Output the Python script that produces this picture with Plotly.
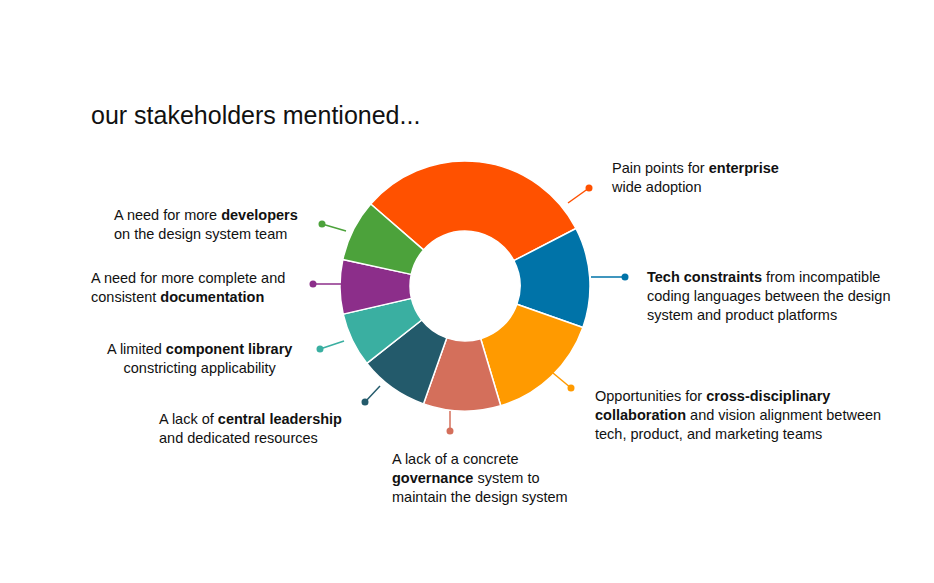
import plotly.graph_objects as go

W, H = 934, 583

# Slice data, clockwise starting from the orange slice
topics = ["Enterprise adoption", "Tech constraints", "Cross-disciplinary collaboration",
          "Governance", "Central leadership", "Component library",
          "Documentation", "Developers"]
shares = [31, 13, 15, 10, 9, 7, 7, 8]
colors = ["#FF5100", "#0073A8", "#FF9A00", "#D46F5B", "#235A6B", "#3AAFA1", "#8C2E8A", "#4CA23B"]

labels_html = [
    "Pain points for <b>enterprise</b><br>wide adoption",
    "<b>Tech constraints</b> from incompatible<br>coding languages between the design<br>system and product platforms",
    "Opportunities for <b>cross-disciplinary</b><br><b>collaboration</b> and vision alignment between<br>tech, product, and marketing teams",
    "A lack of a concrete<br><b>governance</b> system to<br>maintain the design system",
    "A lack of <b>central leadership</b><br>and dedicated resources",
    "A limited <b>component library</b><br>constricting applicability",
    "A need for more complete and<br>consistent <b>documentation</b>",
    "A need for more <b>developers</b><br>on the design system team",
]
# label placement in pixels: (x, y_center, anchor, align)
label_pos = [(601, 169, "left", "left"), (637, 288, "left", "left"),
             (585, 407, "left", "left"), (382, 470, "left", "left"),
             (149, 420, "left", "left"), (191, 350, "center", "center"),
             (81, 280, "left", "left"), (104, 217, "left", "left")]
# leader lines: (x0, y0, dot x, dot y)
leaders = [(560, 195, 581, 180), (583, 269, 617, 269), (545, 365, 563, 380),
           (442, 403, 442, 423), (372, 378, 357, 394), (336, 333, 312, 341),
           (333, 276, 305, 276), (338, 223, 314, 216)]

px = lambda x: x / W
py = lambda y: 1 - y / H

cx, cy, r = 457, 278, 125
fig = go.Figure(go.Pie(
    labels=topics, values=shares, sort=False, direction="clockwise",
    rotation=-49, hole=0.44, textinfo="none", hoverinfo="label+percent",
    marker=dict(colors=colors, line=dict(color="white", width=1.5)),
    domain=dict(x=[px(cx - r), px(cx + r)], y=[py(cy + r), py(cy - r)]),
))

font = dict(family="Liberation Sans, Arial, sans-serif", size=14.5, color="#111")
for txt, (x, y, anc, al) in zip(labels_html, label_pos):
    fig.add_annotation(x=px(x), y=py(y), xref="paper", yref="paper", text=txt,
                       showarrow=False, xanchor=anc, yanchor="middle", align=al, font=font)

for (x0, y0, x1, y1), c in zip(leaders, colors):
    fig.add_shape(type="line", xref="paper", yref="paper", x0=px(x0), y0=py(y0),
                  x1=px(x1), y1=py(y1), line=dict(color=c, width=1.5))
    fig.add_shape(type="circle", xref="paper", yref="paper", x0=px(x1 - 3.5), y0=py(y1 + 3.5),
                  x1=px(x1 + 3.5), y1=py(y1 - 3.5), fillcolor=c, line=dict(width=0))

fig.add_annotation(x=px(81), y=py(107), xref="paper", yref="paper",
                   text="our stakeholders mentioned...", showarrow=False,
                   xanchor="left", yanchor="middle",
                   font=dict(family="Liberation Sans, Arial, sans-serif", size=25, color="#111"))

fig.update_layout(width=W, height=H, margin=dict(l=0, r=0, t=0, b=0),
                  showlegend=False, paper_bgcolor="white", plot_bgcolor="white")

fig.write_html("out.html")
